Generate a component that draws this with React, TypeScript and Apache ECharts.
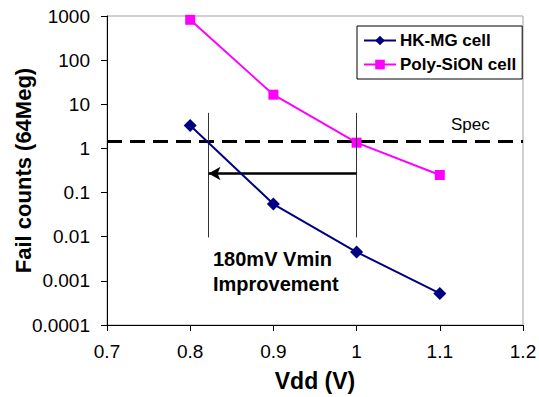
import React, { useEffect, useRef } from "react";
import * as echarts from "echarts";

const vdd = [0.8, 0.9, 1.0, 1.1];
const hkmgValues = [3.3, 0.055, 0.0045, 0.00052];
const polyValues = [820, 16.5, 1.35, 0.25];
const seriesNames = ["HK-MG cell", "Poly-SiON cell"];
const specValue = 1.45;
const vminNew = 0.822;
const vminOld = 1.0;
const markerTop = 6.4;
const markerBottom = 0.0096;
const arrowLevel = 0.27;
const annotation = "180mV Vmin\nImprovement";
const specLabel = "Spec";

const FONT = "'Liberation Sans', Arial, sans-serif";

export default function App() {
  const ref = useRef<HTMLDivElement>(null);
  useEffect(() => {
    if (!ref.current) return;
    const chart = echarts.init(ref.current, null, { renderer: "svg" });
    const fmt = (v: number) => String(parseFloat(Number(v).toPrecision(6)));
    chart.setOption({
      animation: false,
      backgroundColor: "#ffffff",
      textStyle: { fontFamily: FONT },
      grid: {
        left: 107,
        right: 16,
        top: 16,
        bottom: 72,
        show: true,
        borderColor: "#a0a0a0",
        borderWidth: 1,
        outerBoundsMode: "none",
      },
      legend: {
        orient: "vertical",
        left: 357,
        top: 26,
        padding: [6, 6, 6, 6],
        itemWidth: 32,
        itemHeight: 12,
        itemGap: 7,
        backgroundColor: "#ffffff",
        borderColor: "#000000",
        borderWidth: 1,
        textStyle: { fontSize: 17, fontWeight: "bold", color: "#000", fontFamily: FONT, padding: [0, 0, 0, -1] },
        data: seriesNames,
      },
      xAxis: {
        type: "value",
        min: 0.7,
        max: 1.2,
        interval: 0.1,
        name: "Vdd (V)",
        nameLocation: "middle",
        nameGap: 44,
        nameMoveOverlap: false,
        nameTextStyle: { fontSize: 23, fontWeight: "bold", color: "#000", fontFamily: FONT },
        axisLine: { show: true, lineStyle: { color: "#000", width: 1 } },
        axisTick: { show: true, inside: false, length: 6, lineStyle: { color: "#000" } },
        axisLabel: { fontSize: 19, color: "#000", margin: 17, fontFamily: FONT, formatter: fmt },
        splitLine: { show: false },
      },
      yAxis: {
        type: "log",
        logBase: 10,
        min: 0.0001,
        max: 1000,
        name: "Fail counts (64Meg)",
        nameLocation: "middle",
        nameRotate: 90,
        nameGap: 73,
        nameMoveOverlap: false,
        nameTextStyle: { fontSize: 22, fontWeight: "bold", color: "#000", fontFamily: FONT },
        axisLine: { show: true, lineStyle: { color: "#000", width: 1 } },
        axisTick: { show: true, inside: false, length: 6, lineStyle: { color: "#000" } },
        axisLabel: { fontSize: 19, color: "#000", margin: 17, fontFamily: FONT, formatter: fmt },
        splitLine: { show: false },
        minorTick: { show: false },
      },
      series: [
        {
          name: seriesNames[0],
          type: "line",
          data: vdd.map((x, i) => [x, hkmgValues[i]]),
          symbol: "diamond",
          symbolSize: 13,
          itemStyle: { color: "#000080" },
          lineStyle: { color: "#000080", width: 2 },
          z: 5,
          markLine: {
            silent: true,
            symbol: "none",
            label: { show: false },
            animation: false,
            data: [
              [
                { coord: [vminNew, markerTop], lineStyle: { color: "#333", width: 1, type: "solid" } },
                { coord: [vminNew, markerBottom] },
              ],
              [
                { coord: [vminOld, markerTop], lineStyle: { color: "#333", width: 1, type: "solid" } },
                { coord: [vminOld, markerBottom] },
              ],
              [
                { coord: [vminOld, arrowLevel], symbol: "none", lineStyle: { color: "#000", width: 2.5, type: "solid" } },
                { coord: [vminNew, arrowLevel], symbol: "arrow", symbolSize: [10, 12] },
              ],
            ],
          },
        },
        {
          name: seriesNames[1],
          type: "line",
          data: vdd.map((x, i) => [x, polyValues[i]]),
          symbol: "rect",
          symbolSize: 10,
          itemStyle: { color: "#ff00ff" },
          lineStyle: { color: "#ff00ff", width: 2 },
          z: 4,
          markLine: {
            silent: true,
            symbol: "none",
            label: { show: false },
            animation: false,
            z: 1,
            lineStyle: { color: "#000", width: 3, type: [15, 8] },
            data: [{ yAxis: specValue }],
          },
        },
      ],
      graphic: [
        {
          type: "text",
          x: 213,
          y: 246.5,
          silent: true,
          style: {
            text: annotation,
            fontSize: 20,
            fontWeight: "bold",
            fontFamily: FONT,
            fill: "#000",
            lineHeight: 25,
            verticalAlign: "top",
            align: "left",
          },
        },
        {
          type: "text",
          x: 451,
          y: 124.5,
          silent: true,
          style: {
            text: specLabel,
            fontSize: 17,
            fontFamily: FONT,
            fill: "#000",
            verticalAlign: "middle",
            align: "left",
          },
        },
      ],
    });
    return () => chart.dispose();
  }, []);
  return (
    <div
      ref={ref}
      style={{ position: "fixed", left: 0, top: 0, width: 539, height: 397, background: "#fff" }}
    />
  );
}
